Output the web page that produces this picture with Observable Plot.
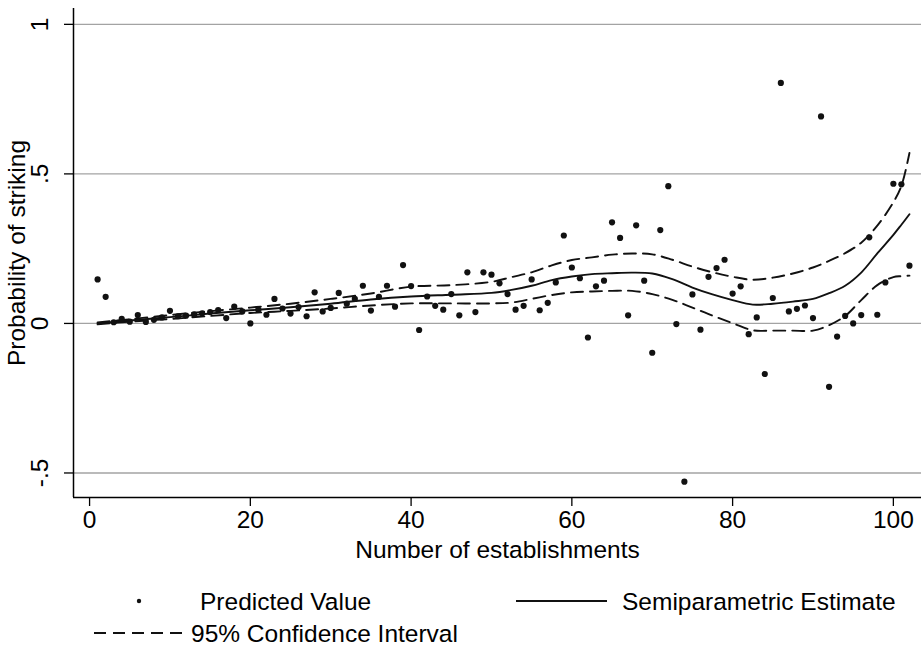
<!DOCTYPE html>
<html><head><meta charset="utf-8">
<script src="https://cdn.jsdelivr.net/npm/d3@7"></script>
<script src="https://cdn.jsdelivr.net/npm/@observablehq/plot@0.6"></script>
<style>
body{margin:0;background:#fff;}
#chart svg{display:block;}
</style></head><body><div id="chart"></div>
<script>
// Number of establishments (x) and predicted values (y)
const establishments = d3.range(1, 103);
const predicted = [
  0.147, 0.089, 0.004, 0.015, 0.006, 0.028, 0.005, 0.012, 0.020, 0.042,
  0.024, 0.026, 0.030, 0.034, 0.038, 0.045, 0.018, 0.056, 0.040, 0.000,
  0.046, 0.029, 0.082, 0.050, 0.033, 0.055, 0.024, 0.104, 0.040, 0.052,
  0.102, 0.066, 0.082, 0.126, 0.043, 0.089, 0.126, 0.056, 0.195, 0.125,
  -0.022, 0.090, 0.059, 0.046, 0.098, 0.027, 0.171, 0.038, 0.171, 0.163,
  0.134, 0.098, 0.046, 0.059, 0.147, 0.044, 0.069, 0.137, 0.294, 0.187,
  0.151, -0.047, 0.124, 0.143, 0.338, 0.286, 0.027, 0.328, 0.143, -0.098,
  0.312, 0.459, -0.002, -0.529, 0.097, -0.021, 0.156, 0.185, 0.213, 0.100,
  0.124, -0.036, 0.020, -0.169, 0.085, 0.804, 0.040, 0.049, 0.060, 0.018,
  0.692, -0.212, -0.044, 0.025, 0.000, 0.028, 0.288, 0.029, 0.137, 0.467,
  0.465, 0.193
];
// Semiparametric estimate and 95% CI, sampled along x
const curveX   = [1, 5, 10, 15, 20, 25, 30, 35, 40, 45, 50, 52.5, 55, 57.5, 60, 62.5, 65, 67.5, 70, 72.5, 75, 77.5, 80, 82.5, 85, 87.5, 90, 92, 94, 96, 98, 100, 101, 102];
const estimate = [0.000, 0.010, 0.021, 0.033, 0.044, 0.054, 0.066, 0.080, 0.090, 0.096, 0.102, 0.112, 0.126, 0.145, 0.157, 0.165, 0.168, 0.170, 0.167, 0.148, 0.120, 0.097, 0.078, 0.063, 0.066, 0.073, 0.082, 0.101, 0.126, 0.170, 0.234, 0.296, 0.330, 0.365];
const ciUpper  = [0.003, 0.014, 0.028, 0.041, 0.053, 0.066, 0.082, 0.100, 0.123, 0.128, 0.139, 0.155, 0.171, 0.194, 0.212, 0.221, 0.230, 0.234, 0.231, 0.213, 0.190, 0.171, 0.156, 0.146, 0.153, 0.167, 0.187, 0.209, 0.235, 0.270, 0.327, 0.405, 0.460, 0.570];
const ciLower  = [-0.003, 0.006, 0.015, 0.025, 0.035, 0.042, 0.050, 0.060, 0.067, 0.067, 0.067, 0.070, 0.082, 0.095, 0.104, 0.107, 0.109, 0.109, 0.098, 0.079, 0.053, 0.026, 0.001, -0.023, -0.024, -0.024, -0.024, -0.006, 0.025, 0.078, 0.128, 0.155, 0.158, 0.160];

const xTicks = [0, 20, 40, 60, 80, 100];
const yTicks = [-0.5, 0, 0.5, 1];
const yTickLabels = ["-.5", "0", ".5", "1"];
const xTitle = "Number of establishments";
const yTitle = "Probability of striking";
const legendLabels = ["Predicted Value", "Semiparametric Estimate", "95% Confidence Interval"];

const points = establishments.map((x, i) => ({x, y: predicted[i]}));
const curve = curveX.map((x, i) => ({x, fit: estimate[i], hi: ciUpper[i], lo: ciLower[i]}));

const font = '"Liberation Sans", Arial, Helvetica, sans-serif';
const FS = 24.5;
const ink = "#111";
const xMin = -2, xMax = 103.5, yMin = -0.582, yMax = 1.053;

const plot = Plot.plot({
  width: 921, height: 570,
  marginLeft: 73, marginRight: 0, marginTop: 8, marginBottom: 73,
  style: {fontFamily: font, fontSize: FS + "px", color: "#000", background: "#fff"},
  x: {domain: [xMin, xMax]},
  y: {domain: [yMin, yMax]},
  marks: [
    Plot.ruleY(yTicks, {stroke: "#a3a3a3", strokeWidth: 1.3}),
    Plot.line(curve, {x: "x", y: "hi", stroke: ink, strokeWidth: 1.9, strokeDasharray: "12,7", curve: "catmull-rom"}),
    Plot.line(curve, {x: "x", y: "lo", stroke: ink, strokeWidth: 1.9, strokeDasharray: "12,7", curve: "catmull-rom"}),
    Plot.line(curve, {x: "x", y: "fit", stroke: ink, strokeWidth: 1.9, curve: "catmull-rom"}),
    Plot.dot(points, {x: "x", y: "y", r: 3.1, fill: ink, stroke: "none"}),
    Plot.axisX({ticks: xTicks, tickSize: 9, tickPadding: 4, fontSize: FS, label: null, tickFormat: d => String(d), strokeWidth: 1.3}),
    Plot.axisY({ticks: yTicks, tickSize: 9, tickFormat: () => "", label: null, strokeWidth: 1.3}),
    Plot.text(yTicks, {x: xMin, y: d => d, text: d => yTickLabels[yTicks.indexOf(d)], rotate: -90, dx: -33, fontSize: FS, textAnchor: "middle", lineAnchor: "middle", fill: "#000"}),
    Plot.ruleX([xMin], {stroke: "#000", strokeWidth: 1.5}),
    Plot.ruleY([yMin], {stroke: "#000", strokeWidth: 1.5}),
    Plot.text([yTitle], {frameAnchor: "left", rotate: -90, dx: -56, fontSize: FS, textAnchor: "middle", lineAnchor: "middle", fill: "#000"}),
    Plot.text([xTitle], {frameAnchor: "bottom", dy: 53, fontSize: FS, textAnchor: "middle", lineAnchor: "middle", fill: "#000"})
  ]
});
document.getElementById("chart").appendChild(plot);

// Legend below the plot
const leg = d3.create("svg").attr("width", 921).attr("height", 76)
  .style("display", "block").style("font-family", font).style("font-size", FS + "px");
leg.append("circle").attr("cx", 139).attr("cy", 31).attr("r", 2.2).attr("fill", ink);
leg.append("text").attr("x", 200).attr("y", 31).attr("dy", "0.35em").text(legendLabels[0]);
leg.append("line").attr("x1", 516).attr("x2", 607).attr("y1", 31).attr("y2", 31).attr("stroke", ink).attr("stroke-width", 1.9);
leg.append("text").attr("x", 622).attr("y", 31).attr("dy", "0.35em").text(legendLabels[1]);
leg.append("line").attr("x1", 94).attr("x2", 183).attr("y1", 63).attr("y2", 63).attr("stroke", ink).attr("stroke-width", 1.9).attr("stroke-dasharray", "12,7");
leg.append("text").attr("x", 191).attr("y", 63).attr("dy", "0.35em").text(legendLabels[2]);
document.getElementById("chart").appendChild(leg.node());
</script>
</body></html>
